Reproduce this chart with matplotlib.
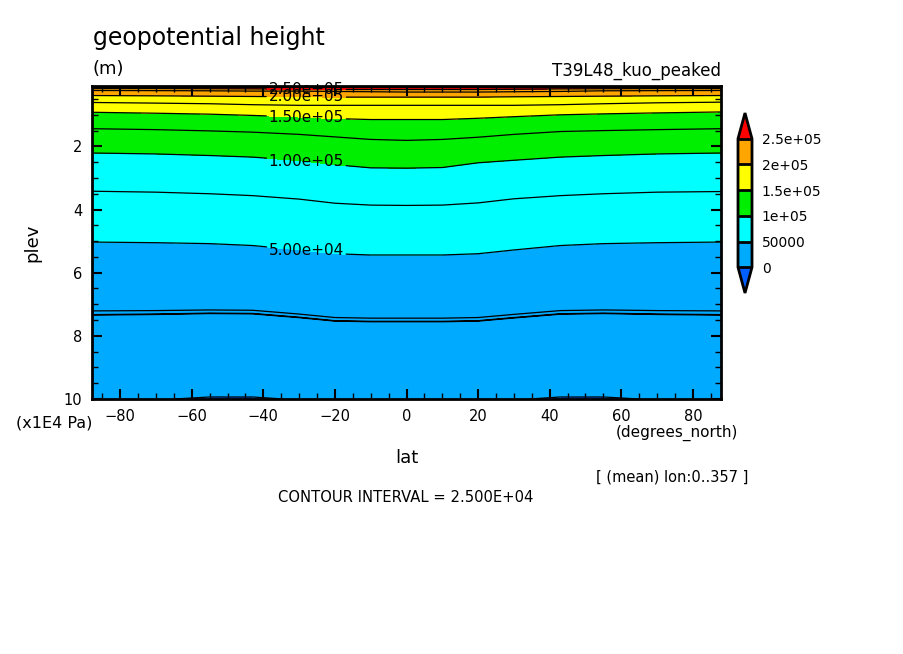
import matplotlib
matplotlib.use("Agg")
import matplotlib.pyplot as plt
import numpy as np
from matplotlib.colors import ListedColormap, BoundaryNorm
from matplotlib.ticker import MultipleLocator

# latitude columns (degrees_north)
lat = [-87.86, -70, -55, -43, -30, -20, -10, 0, 10, 20, 30, 43, 55, 70, 87.86]

# plev (x1E4 Pa) of each geopotential height contour, read per latitude
p_300000 = [0.10] * 15
p_275000 = [0.13] * 15
p_250000 = [0.17, 0.17, 0.175, 0.18, 0.19, 0.20, 0.20, 0.20, 0.20, 0.20, 0.19, 0.18, 0.175, 0.17, 0.17]
p_225000 = [0.23, 0.235, 0.24, 0.25, 0.25, 0.26, 0.27, 0.28, 0.28, 0.28, 0.27, 0.26, 0.24, 0.235, 0.23]
p_200000 = [0.39, 0.40, 0.41, 0.42, 0.43, 0.44, 0.44, 0.44, 0.44, 0.44, 0.43, 0.42, 0.41, 0.40, 0.39]
p_175000 = [0.61, 0.63, 0.65, 0.68, 0.70, 0.70, 0.70, 0.70, 0.70, 0.70, 0.70, 0.68, 0.65, 0.62, 0.60]
p_150000 = [0.92, 0.95, 0.98, 1.02, 1.07, 1.12, 1.15, 1.15, 1.15, 1.11, 1.06, 1.00, 0.97, 0.94, 0.91]
p_125000 = [1.44, 1.47, 1.51, 1.55, 1.62, 1.70, 1.78, 1.81, 1.78, 1.71, 1.62, 1.53, 1.50, 1.47, 1.44]
p_100000 = [2.21, 2.24, 2.29, 2.34, 2.45, 2.58, 2.68, 2.69, 2.67, 2.52, 2.44, 2.34, 2.29, 2.24, 2.21]
p_75000 = [3.42, 3.45, 3.50, 3.56, 3.67, 3.80, 3.86, 3.87, 3.86, 3.79, 3.66, 3.56, 3.50, 3.45, 3.43]
p_50000 = [5.03, 5.05, 5.08, 5.14, 5.28, 5.40, 5.44, 5.44, 5.44, 5.40, 5.28, 5.14, 5.08, 5.05, 5.03]
# the 25000 contour shows up as two close lines
p_25000_upper = [7.21, 7.20, 7.18, 7.19, 7.31, 7.42, 7.44, 7.44, 7.44, 7.42, 7.32, 7.20, 7.18, 7.20, 7.21]
p_25000_lower = [7.34, 7.32, 7.29, 7.30, 7.42, 7.53, 7.55, 7.55, 7.55, 7.53, 7.43, 7.31, 7.29, 7.32, 7.34]
# height at the bottom level (slightly below 0 in the mid latitudes)
z_bottom = [300, 300, -600, -600, 300, 300, 300, 300, 300, 300, 300, -600, -600, 300, 300]

fill_levels = [0, 50000, 100000, 150000, 200000, 250000]
plain_levels = [0, 25000, 75000, 125000, 175000, 225000, 275000, 300000]
label_levels = [50000, 100000, 150000, 200000, 250000]
fill_colors = ["#00aaff", "#00ffff", "#00ee00", "#ffff00", "#ffa500"]
under_color = "#0060ff"
over_color = "#ff0000"
cbar_labels = ["0", "50000", "1e+05", "1.5e+05", "2e+05", "2.5e+05"]

# build a curvilinear grid: each row follows one contour
n = len(lat)
up = np.array(p_25000_upper)
lo = np.array(p_25000_lower)
rows = [
    (np.full(n, 0.07), np.full(n, 320000.0)),
    (np.array(p_300000), np.full(n, 300000.0)),
    (np.array(p_275000), np.full(n, 275000.0)),
    (np.array(p_250000), np.full(n, 250000.0)),
    (np.array(p_225000), np.full(n, 225000.0)),
    (np.array(p_200000), np.full(n, 200000.0)),
    (np.array(p_175000), np.full(n, 175000.0)),
    (np.array(p_150000), np.full(n, 150000.0)),
    (np.array(p_125000), np.full(n, 125000.0)),
    (np.array(p_100000), np.full(n, 100000.0)),
    (np.array(p_75000), np.full(n, 75000.0)),
    (np.array(p_50000), np.full(n, 50000.0)),
    (up - 0.04, np.full(n, 25600.0)),
    (up + 0.04, np.full(n, 24400.0)),
    (lo, np.full(n, 25100.0)),
    (lo + 0.02, np.full(n, 24600.0)),
    (np.full(n, 10.0), np.array(z_bottom, dtype=float)),
]
P = np.vstack([r[0] for r in rows])
Z = np.vstack([r[1] for r in rows])
X = np.tile(np.array(lat), (len(rows), 1))

fig = plt.figure(figsize=(9.04, 6.54), dpi=100)
ax = fig.add_axes([92 / 904, 1 - 399 / 654, 629 / 904, 313 / 654])

cmap = ListedColormap(fill_colors)
cmap.set_under(under_color)
cmap.set_over(over_color)
norm = BoundaryNorm(fill_levels, cmap.N)

cf = ax.contourf(X, P, Z, levels=fill_levels, cmap=cmap, norm=norm, extend="both")
ax.contour(X, P, Z, levels=plain_levels, colors="k", linewidths=0.9)
cs = ax.contour(X, P, Z, levels=label_levels, colors="k", linewidths=0.9)
label_pos = [(-28, 5.3), (-28, 2.5), (-28, 1.08), (-28, 0.43), (-28, 0.19)]
labels = ax.clabel(cs, manual=label_pos, fmt="%.2e", fontsize=11, inline=True,
                   inline_spacing=2)
for t in labels:
    t.set_rotation(0)
    t.set_clip_on(False)

ax.set_xlim(-87.86, 87.86)
ax.set_ylim(10, 0.088)
ax.set_xticks([-80, -60, -40, -20, 0, 20, 40, 60, 80])
ax.set_yticks([2, 4, 6, 8, 10])
ax.xaxis.set_minor_locator(MultipleLocator(5))
ax.yaxis.set_minor_locator(MultipleLocator(0.5))
ax.tick_params(which="both", direction="in", top=True, right=True, labelsize=10.5)
ax.tick_params(which="major", length=7, width=1.5, pad=7)
ax.tick_params(which="minor", length=4, width=1)
for sp in ax.spines.values():
    sp.set_linewidth(2)

ax.set_ylabel("plev", fontsize=13, labelpad=16)
ax.set_xlabel("lat", fontsize=13, labelpad=18)

fig.text(93 / 904, 1 - 45 / 654, "geopotential height", fontsize=17)
fig.text(93 / 904, 1 - 74 / 654, "(m)", fontsize=13)
fig.text(721 / 904, 1 - 76 / 654, "T39L48_kuo_peaked", fontsize=12, ha="right")
fig.text(16 / 904, 1 - 423 / 654, "(x1E4 Pa)", fontsize=11.5, va="center")
fig.text(738 / 904, 1 - 433 / 654, "(degrees_north)", fontsize=11, ha="right", va="center")
fig.text(748 / 904, 1 - 477 / 654, "[ (mean) lon:0..357 ]", fontsize=10.5, ha="right", va="center")
fig.text(406 / 904, 1 - 497 / 654, "CONTOUR INTERVAL = 2.500E+04", fontsize=10.6,
         ha="center", va="center")

cax = fig.add_axes([738 / 904, 1 - 293 / 654, 14 / 904, 180 / 654])
cbar = fig.colorbar(cf, cax=cax, extend="both", extendfrac=0.2, drawedges=True,
                    ticks=fill_levels)
cbar.set_ticklabels(cbar_labels)
cbar.outline.set_linewidth(2)
cbar.dividers.set_linewidth(2)
cbar.ax.tick_params(length=0, labelsize=10, pad=7)

fig.savefig("out.png", dpi=100, facecolor="white")
